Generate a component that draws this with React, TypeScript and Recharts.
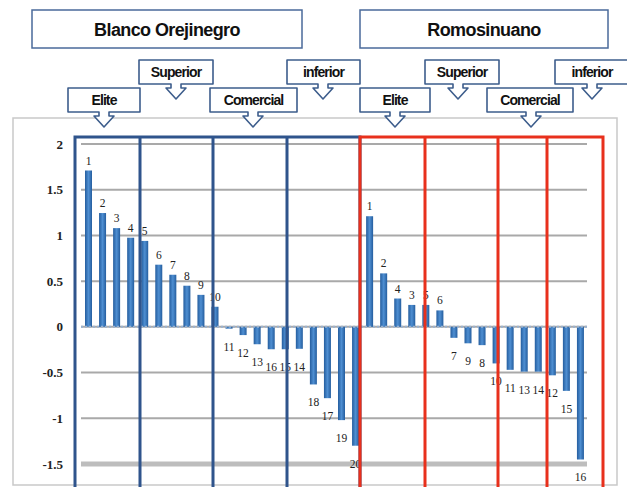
import { BarChart, Bar, XAxis, YAxis, CartesianGrid, ReferenceLine, LabelList } from 'recharts';

// Blanco Orejinegro, in plotted order
const blancoValues = [1.71, 1.245, 1.08, 0.975, 0.94, 0.68, 0.57, 0.45, 0.35, 0.22, -0.02, -0.09, -0.19, -0.245, -0.245, -0.24, -0.63, -0.78, -1.02, -1.3];
const blancoRanks = ['1', '2', '3', '4', '5', '6', '7', '8', '9', '10', '11', '12', '13', '16', '15', '14', '18', '17', '19', '20'];

// Romosinuano, in plotted order
const romoValues = [1.21, 0.585, 0.31, 0.24, 0.24, 0.18, -0.12, -0.18, -0.2, -0.4, -0.47, -0.49, -0.49, -0.53, -0.7, -1.45];
const romoRanks = ['1', '2', '4', '3', '5', '6', '7', '9', '8', '10', '11', '13', '14', '12', '15', '16'];

const yTicks = [-1.5, -1, -0.5, 0, 0.5, 1, 1.5, 2];

const breeds = ['Blanco Orejinegro', 'Romosinuano'];
const classes = ['Elite', 'Superior', 'Comercial', 'inferior'];

const data = [
  ...blancoValues.map((v, i) => ({ key: 'bo' + i, value: v, rank: blancoRanks[i] })),
  ...romoValues.map((v, i) => ({ key: 'rs' + i, value: v, rank: romoRanks[i] })),
];

const W = 627;
const H = 487;

function RankLabel(props: any) {
  const { x, y, width, height, value } = props;
  const s = String(value);
  const neg = s[0] === '-';
  const top = Math.min(y, y + height);
  const bottom = Math.max(y, y + height);
  const ty = neg ? bottom + 22 : top - 6;
  return (
    <text x={x + width / 2} y={ty} textAnchor="middle" fontFamily="'Liberation Serif', serif" fontSize={11.5} fill="#222">
      {s.slice(1)}
    </text>
  );
}

function Callout({ x, y, w, h, ax, text }: { x: number; y: number; w: number; h: number; ax: number; text: string }) {
  const b = y + h;
  const d = `M${x},${y} H${x + w} V${b} H${ax + 5} V${b + 4} H${ax + 10} L${ax},${b + 15} L${ax - 10},${b + 4} H${ax - 5} V${b} H${x} Z`;
  return (
    <g>
      <path d={d} fill="#fff" stroke="#3d5d8c" strokeWidth={1.6} strokeLinejoin="round" />
      <text x={x + w / 2} y={y + h / 2 + 5} textAnchor="middle" fontFamily="'Liberation Sans', Arial, sans-serif" fontWeight="bold" fontSize={14} letterSpacing={-0.9} fill="#111">
        {text}
      </text>
    </g>
  );
}

// annotation layout (pixels)
const calloutBoxes = [
  { x: 68, y: 88, w: 72, ax: 104, cls: 0 },
  { x: 139, y: 60, w: 74, ax: 176, cls: 1 },
  { x: 210, y: 88, w: 87, ax: 253, cls: 2 },
  { x: 287, y: 60, w: 73, ax: 323, cls: 3 },
  { x: 360, y: 88, w: 70, ax: 395, cls: 0 },
  { x: 425, y: 60, w: 74, ax: 458, cls: 1 },
  { x: 487, y: 88, w: 86, ax: 531, cls: 2 },
  { x: 555, y: 60, w: 74, ax: 592, cls: 3 },
];

export default function App() {
  return (
    <div style={{ position: 'absolute', left: 0, top: 0, width: W, height: H, background: '#fff', overflow: 'hidden' }}>
      <svg width={W} height={H} style={{ position: 'absolute', left: 0, top: 0 }}>
        <rect x={13} y={118} width={604} height={367} fill="#fff" stroke="#c9c9c9" strokeWidth={1.5} />
      </svg>
      <div style={{ position: 'absolute', left: 0, top: 0 }}>
        <BarChart width={W} height={H} data={data} margin={{ top: 144, right: 40, bottom: 23, left: 0 }}>
          <defs>
            <linearGradient id="barFill" x1="0" y1="0" x2="1" y2="0">
              <stop offset="0%" stopColor="#245d9e" />
              <stop offset="50%" stopColor="#4f8fd2" />
              <stop offset="100%" stopColor="#245d9e" />
            </linearGradient>
          </defs>
          <CartesianGrid vertical={false} stroke="#a9a9a9" strokeWidth={2} />
          <XAxis dataKey="key" hide />
          <YAxis
            domain={[-1.5, 2]}
            ticks={yTicks}
            width={81}
            tickLine={false}
            axisLine={false}
            tickSize={0}
            tickMargin={18}
            tick={{ fill: '#222', fontSize: 13, fontFamily: "'Liberation Serif', serif", fontWeight: 'bold' }}
          />
          <ReferenceLine y={-1.5} stroke="#bdbdbd" strokeWidth={5} />
          <ReferenceLine y={0} stroke="#9bb2cf" strokeWidth={2} strokeDasharray="2 2" />
          <Bar dataKey="value" fill="url(#barFill)" barSize={7} isAnimationActive={false}>
            <LabelList dataKey={(d: any) => (d.value < 0 ? '-' : '+') + d.rank} content={RankLabel} />
          </Bar>
        </BarChart>
      </div>
      <svg width={W} height={H} style={{ position: 'absolute', left: 0, top: 0, pointerEvents: 'none' }}>
        {/* breed group frames */}
        <path d="M75,490 V137 H360 V490 M140,137 V490 M213,137 V490 M287,137 V490" fill="none" stroke="#2f548c" strokeWidth={3} />
        <path d="M360,490 V137 H603 V490 M425,137 V490 M498,137 V490 M547,137 V490" fill="none" stroke="#e8301c" strokeWidth={3} />
        {/* breed titles */}
        <rect x={32} y={10} width={270} height={38} fill="#fff" stroke="#4a6a9a" strokeWidth={1.5} />
        <text x={167} y={36} textAnchor="middle" fontFamily="'Liberation Sans', Arial, sans-serif" fontWeight="bold" fontSize={18} letterSpacing={-0.6} fill="#111">
          {breeds[0]}
        </text>
        <rect x={360} y={10} width={248} height={38} fill="#fff" stroke="#4a6a9a" strokeWidth={1.5} />
        <text x={484} y={36} textAnchor="middle" fontFamily="'Liberation Sans', Arial, sans-serif" fontWeight="bold" fontSize={18} letterSpacing={-0.6} fill="#111">
          {breeds[1]}
        </text>
        {calloutBoxes.map((c, i) => (
          <Callout key={i} x={c.x} y={c.y} w={c.w} h={24} ax={c.ax} text={classes[c.cls]} />
        ))}
      </svg>
    </div>
  );
}
